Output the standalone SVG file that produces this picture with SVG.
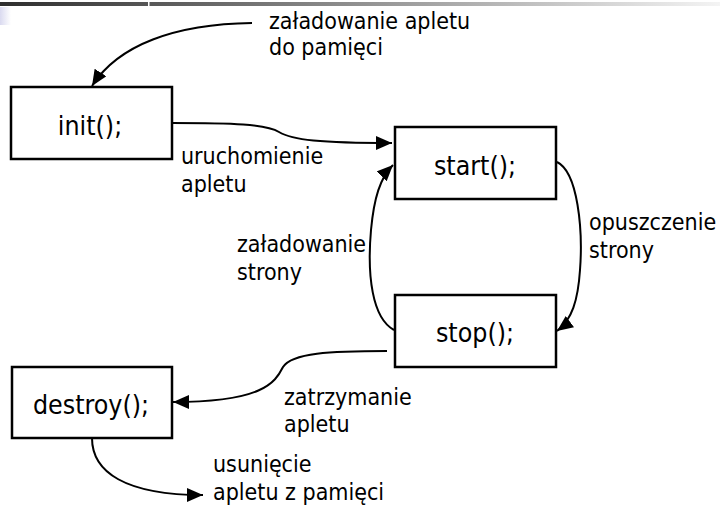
<svg xmlns="http://www.w3.org/2000/svg" width="720" height="531" viewBox="0 0 720 531">
<style>
.box{fill:#fff;stroke:#000;stroke-width:2.5}
.lbl{font-family:"DejaVu Sans Condensed","DejaVu Sans",sans-serif;font-stretch:condensed;font-size:23px;fill:#000}
.big{font-size:26.5px}
.mid{text-anchor:middle}
.con{fill:none;stroke:#000;stroke-width:2;marker-end:url(#ah)}
</style>
<defs>
<linearGradient id="bar" x1="0" y1="0" x2="1" y2="0">
<stop offset="0" stop-color="#2e2e2e"/>
<stop offset="1" stop-color="#f4f4f4"/>
</linearGradient>
<linearGradient id="lav" x1="0" y1="0" x2="1" y2="0">
<stop offset="0" stop-color="#dadaf0"/>
<stop offset="1" stop-color="#ffffff"/>
</linearGradient>
<marker id="ah" markerUnits="userSpaceOnUse" markerWidth="18" markerHeight="16" refX="16" refY="7" orient="auto">
<path d="M0,0 L16,7 L0,14 z" fill="#000"/>
</marker>
</defs>
<rect x="0" y="2" width="720" height="4" fill="url(#bar)"/>
<rect x="148" y="2" width="1.5" height="4" fill="#fff"/>
<rect x="0" y="7" width="11" height="18" fill="url(#lav)"/>

<g id="connectors">
<path class="con" d="M252,23 C175,24 118,45 92,86"/>
<path class="con" d="M172,123 C232,123 266,124 279,132 C292,140 320,143 392,143"/>
<path class="con" d="M394,330 C372,318 367,275 371,230 C374,198 380,178 393,165"/>
<path class="con" d="M557,162 C578,172 583,230 580,270 C578,300 572,320 557,331"/>
<path class="con" d="M387,351 C330,351 292,353 283,367 C275,383 262,402 173,402"/>
<path class="con" d="M92,438 C92,472 125,495 203,495"/>
</g>

<g id="init">
<rect class="box" x="11" y="87" width="161" height="72"/>
<text class="lbl big mid" x="90" y="135">init();</text>
</g>
<g id="start">
<rect class="box" x="395" y="127" width="161" height="72"/>
<text class="lbl big mid" x="475" y="175">start();</text>
</g>
<g id="stop">
<rect class="box" x="395" y="295" width="161" height="72"/>
<text class="lbl big mid" x="475" y="342">stop();</text>
</g>
<g id="destroy">
<rect class="box" x="12" y="367" width="160" height="71"/>
<text class="lbl big mid" x="91" y="414">destroy();</text>
</g>

<g id="labels">
<text class="lbl" x="269" y="29">załadowanie apletu</text>
<text class="lbl" x="269" y="55">do pamięci</text>
<text class="lbl" x="181" y="164">uruchomienie</text>
<text class="lbl" x="181" y="192">apletu</text>
<text class="lbl" x="237" y="252">załadowanie</text>
<text class="lbl" x="237" y="280">strony</text>
<text class="lbl" x="589" y="230">opuszczenie</text>
<text class="lbl" x="589" y="258">strony</text>
<text class="lbl" x="284" y="405">zatrzymanie</text>
<text class="lbl" x="284" y="432">apletu</text>
<text class="lbl" x="213" y="472">usunięcie</text>
<text class="lbl" x="213" y="500">apletu z pamięci</text>
</g>
</svg>
